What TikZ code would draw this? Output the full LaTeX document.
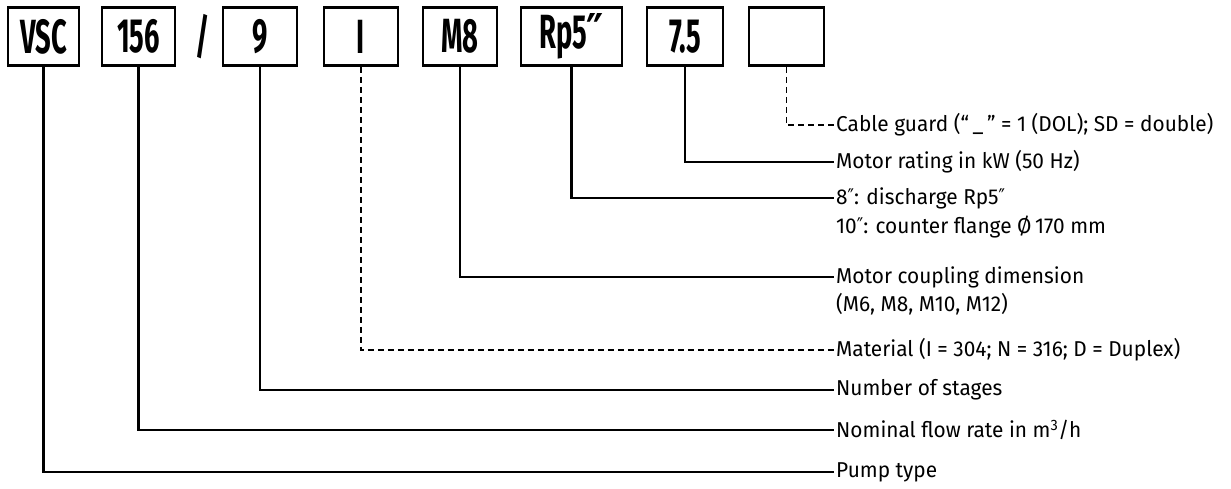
\documentclass[tikz,border=0pt]{standalone}
\usepackage{fontspec}
\setmainfont{Fira Sans}
\newfontfamily\kastenfont{Fira Sans}[FakeStretch=0.57]
\newfontfamily\beschrfont{Fira Sans}[FakeStretch=0.97]
\newfontfamily\zollfont{DejaVu Sans}[FakeStretch=0.8]
\newcommand{\zoll}{{\zollfont ″}}
\usetikzlibrary{positioning}

\tikzset{
	kasten/.style={draw, line width=2.6pt, minimum height=58pt, inner sep=0pt,
		font=\kastenfont\bfseries\fontsize{48}{48}\selectfont},
	beschr/.style={anchor=west, inner sep=2pt, align=left,
		font=\beschrfont\fontsize{21.5}{21.5}\selectfont},
	linie/.style={line width=2.2pt},
	strich/.style={line width=1.6pt, dash pattern=on 6pt off 4pt}
}

\begin{document}
\begin{tikzpicture}[x=1pt,y=-1pt]
	\useasboundingbox (0,0) rectangle (1231,489);
	%Kaesten der Typenbezeichnung
	\node[kasten, minimum width=71pt] (VSC) at (43.5,36.5) {VSC};
	\node[kasten, minimum width=73pt] (Q) at (138.5,36.5) {156};
	\node[font=\kastenfont\bfseries\fontsize{48}{48}\selectfont] (slash) at (203,36.5) {/};
	\node[kasten, minimum width=74pt] (S) at (260,36.5) {9};
	\node[kasten, minimum width=74pt] (I) at (361,36.5) {I};
	\node[kasten, minimum width=74pt] (M) at (460,36.5) {M8};
	\node[kasten, minimum width=101pt] (Rp) at (571.5,36.5) {Rp5{\zollfont\bfseries ″}};
	\node[kasten, minimum width=76pt] (P) at (685,36.5) {7.5};
	\node[kasten, minimum width=75pt] (K) at (786.5,36.5) {};

	%Beschriftung
	\node[beschr] (kabel) at (834,125) {Cable guard (“\,\_\,” = 1 (DOL); SD = double)};
	\node[beschr] (leistung) at (834,162) {Motor rating in kW (50 Hz)};
	\node[beschr] (druck) at (834,198) {8\zoll: discharge Rp5\zoll};
	\node[beschr] (druck2) at (834,227) {10\zoll: counter flange Ø\,170 mm};
	\node[beschr] (kupplung) at (834,277) {Motor coupling dimension};
	\node[beschr] (kupplung2) at (834,304) {(M6, M8, M10, M12)};
	\node[beschr] (werkstoff) at (834,350) {Material (I = 304; N = 316; D = Duplex)};
	\node[beschr] (stufen) at (834,390) {Number of stages};
	\node[beschr] (menge) at (834,430) {Nominal flow rate in m\textsuperscript{3}/h};
	\node[beschr] (typ) at (834,472) {Pump type};

	\draw[linie] (VSC.south) |- (typ.west);
	\draw[linie] (Q.south) |- (menge.west);
	\draw[linie] (S.south) |- (stufen.west);
	\draw[strich] (I.south) |- (werkstoff.west);
	\draw[linie] (M.south) |- (kupplung.west);
	\draw[linie] (Rp.south) |- (druck.west);
	\draw[linie] (P.south) |- (leistung.west);
	\draw[strich] (K.south) |- (kabel.west);
\end{tikzpicture}
\end{document}
